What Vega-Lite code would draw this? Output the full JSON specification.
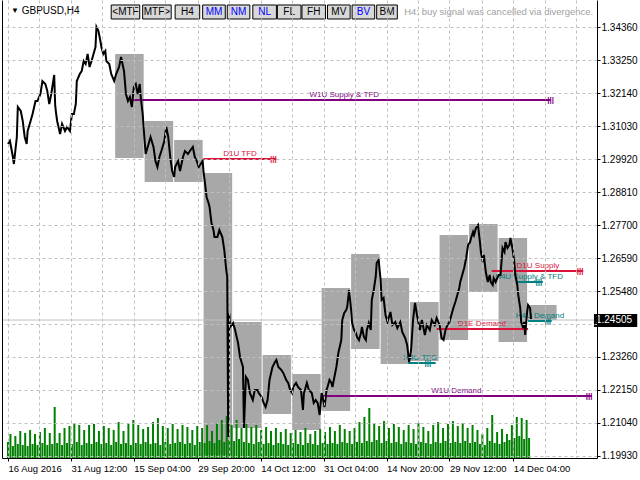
{
"$schema":"https://vega.github.io/schema/vega-lite/v6.json",
"width":595,"height":458,"autosize":"none",
"padding":{"left":2,"top":0,"right":43,"bottom":22},
"background":"white",
"config":{"view":{"stroke":null},"font":"Liberation Sans"},
"datasets":{
"boxes":[
{"a":109,"b":138,"hi":1.33467,"lo":1.29963},
{"a":139,"b":168,"hi":1.31210,"lo":1.29155},
{"a":169,"b":198,"hi":1.30570,"lo":1.29155},
{"a":199,"b":228,"hi":1.29458,"lo":1.19958},
{"a":229,"b":258,"hi":1.24439,"lo":1.20868},
{"a":259,"b":288,"hi":1.23327,"lo":1.21340},
{"a":289,"b":318,"hi":1.22687,"lo":1.20801},
{"a":319,"b":348,"hi":1.25584,"lo":1.21441},
{"a":349,"b":378,"hi":1.26730,"lo":1.23529},
{"a":379,"b":408,"hi":1.25921,"lo":1.23024},
{"a":409,"b":438,"hi":1.25113,"lo":1.23125},
{"a":439,"b":468,"hi":1.27370,"lo":1.23832},
{"a":469,"b":498,"hi":1.27740,"lo":1.25449},
{"a":499,"b":528,"hi":1.27268,"lo":1.23765},
{"a":529,"b":558,"hi":1.25012,"lo":1.24506}
],
"vol":[
{"i":0,"v":16},{"i":2.5,"v":24},{"i":5,"v":12},{"i":7.5,"v":22},{"i":10,"v":14},{"i":12.5,"v":27},{"i":15,"v":13},{"i":17.5,"v":25},{"i":20,"v":12},{"i":22.5,"v":28},
{"i":25,"v":14},{"i":27.5,"v":24},{"i":30,"v":13},{"i":32.5,"v":26},{"i":35,"v":15},{"i":37.5,"v":30},{"i":40,"v":13},{"i":42.5,"v":25},{"i":45,"v":14},{"i":47.5,"v":51},
{"i":50,"v":15},{"i":52.5,"v":25},{"i":55,"v":13},{"i":57.5,"v":30},{"i":60,"v":15},{"i":62.5,"v":32},{"i":65,"v":14},{"i":67.5,"v":35},{"i":70,"v":16},{"i":72.5,"v":33},
{"i":75,"v":13},{"i":77.5,"v":28},{"i":80,"v":15},{"i":82.5,"v":33},{"i":85,"v":14},{"i":87.5,"v":34},{"i":90,"v":16},{"i":92.5,"v":27},{"i":95,"v":14},{"i":97.5,"v":32},
{"i":100,"v":15},{"i":102.5,"v":30},{"i":105,"v":13},{"i":107.5,"v":28},{"i":110,"v":16},{"i":112.5,"v":36},{"i":115,"v":14},{"i":117.5,"v":27},{"i":120,"v":15},{"i":122.5,"v":34},
{"i":125,"v":13},{"i":127.5,"v":38},{"i":130,"v":15},{"i":132.5,"v":33},{"i":135,"v":14},{"i":137.5,"v":29},{"i":140,"v":16},{"i":142.5,"v":31},{"i":145,"v":14},{"i":147.5,"v":36},
{"i":150,"v":15},{"i":152.5,"v":40},{"i":155,"v":13},{"i":157.5,"v":32},{"i":160,"v":16},{"i":162.5,"v":30},{"i":165,"v":14},{"i":167.5,"v":34},{"i":170,"v":15},{"i":172.5,"v":29},
{"i":175,"v":16},{"i":177.5,"v":33},{"i":180,"v":14},{"i":182.5,"v":31},{"i":185,"v":15},{"i":187.5,"v":28},{"i":190,"v":13},{"i":192.5,"v":32},{"i":195,"v":16},{"i":197.5,"v":30},
{"i":200,"v":15},{"i":202.5,"v":33},{"i":205,"v":17},{"i":207.5,"v":27},{"i":210,"v":15},{"i":212.5,"v":35},{"i":215,"v":18},{"i":217.5,"v":38},{"i":220,"v":16},{"i":222.5,"v":42},
{"i":225,"v":18},{"i":227.5,"v":33},{"i":230,"v":17},{"i":232.5,"v":38},{"i":235,"v":19},{"i":237.5,"v":30},{"i":240,"v":16},{"i":242.5,"v":34},{"i":245,"v":15},{"i":247.5,"v":31},
{"i":250,"v":14},{"i":252.5,"v":33},{"i":255,"v":16},{"i":257.5,"v":28},{"i":260,"v":14},{"i":262.5,"v":31},{"i":265,"v":15},{"i":267.5,"v":27},{"i":270,"v":13},{"i":272.5,"v":30},
{"i":275,"v":15},{"i":277.5,"v":26},{"i":280,"v":14},{"i":282.5,"v":29},{"i":285,"v":13},{"i":287.5,"v":25},{"i":290,"v":15},{"i":292.5,"v":28},{"i":295,"v":14},{"i":297.5,"v":26},
{"i":300,"v":13},{"i":302.5,"v":30},{"i":305,"v":15},{"i":307.5,"v":24},{"i":310,"v":14},{"i":312.5,"v":27},{"i":315,"v":13},{"i":317.5,"v":29},{"i":320,"v":15},{"i":322.5,"v":26},
{"i":325,"v":14},{"i":327.5,"v":31},{"i":330,"v":15},{"i":332.5,"v":27},{"i":335,"v":14},{"i":337.5,"v":33},{"i":340,"v":16},{"i":342.5,"v":29},{"i":345,"v":15},{"i":347.5,"v":27},
{"i":350,"v":14},{"i":352.5,"v":30},{"i":355,"v":16},{"i":357.5,"v":36},{"i":360,"v":15},{"i":362.5,"v":41},{"i":365,"v":17},{"i":367.5,"v":50},{"i":370,"v":16},{"i":372.5,"v":35},
{"i":375,"v":18},{"i":377.5,"v":32},{"i":380,"v":15},{"i":382.5,"v":37},{"i":385,"v":17},{"i":387.5,"v":30},{"i":390,"v":15},{"i":392.5,"v":34},{"i":395,"v":16},{"i":397.5,"v":31},
{"i":400,"v":14},{"i":402.5,"v":28},{"i":405,"v":16},{"i":407.5,"v":33},{"i":410,"v":15},{"i":412.5,"v":29},{"i":415,"v":14},{"i":417.5,"v":35},{"i":420,"v":16},{"i":422.5,"v":31},
{"i":425,"v":15},{"i":427.5,"v":27},{"i":430,"v":14},{"i":432.5,"v":33},{"i":435,"v":16},{"i":437.5,"v":36},{"i":440,"v":15},{"i":442.5,"v":30},{"i":445,"v":17},{"i":447.5,"v":34},
{"i":450,"v":15},{"i":452.5,"v":37},{"i":455,"v":16},{"i":457.5,"v":32},{"i":460,"v":15},{"i":462.5,"v":35},{"i":465,"v":17},{"i":467.5,"v":30},{"i":470,"v":15},{"i":472.5,"v":33},
{"i":475,"v":16},{"i":477.5,"v":28},{"i":480,"v":14},{"i":482.5,"v":24},{"i":485,"v":13},{"i":487.5,"v":30},{"i":490,"v":17},{"i":492.5,"v":43},{"i":495,"v":15},{"i":497.5,"v":26},
{"i":500,"v":14},{"i":502.5,"v":29},{"i":505,"v":16},{"i":507.5,"v":24},{"i":510,"v":18},{"i":512.5,"v":33},{"i":515,"v":20},{"i":517.5,"v":41},{"i":520,"v":22},{"i":522.5,"v":40},
{"i":525,"v":19},{"i":527.5,"v":38},{"i":530,"v":20}
],
"px":[
{"i":0,"p":1.30435},{"i":2,"p":1.30536},{"i":5,"p":1.29997},{"i":6,"p":1.29761},{"i":9,"p":1.30671},{"i":10,"p":1.31682},{"i":13,"p":1.31547},{"i":15,"p":1.31210},{"i":17,"p":1.30671},{"i":19,"p":1.30435},
{"i":20,"p":1.30873},{"i":23,"p":1.31210},{"i":25,"p":1.31446},{"i":28,"p":1.31884},{"i":30,"p":1.31884},{"i":33,"p":1.32119},{"i":35,"p":1.32557},{"i":38,"p":1.32456},{"i":40,"p":1.32220},{"i":42,"p":1.31783},
{"i":44,"p":1.32119},{"i":47,"p":1.32760},{"i":48,"p":1.31749},{"i":49,"p":1.31446},{"i":50,"p":1.31210},{"i":53,"p":1.30772},{"i":55,"p":1.31109},{"i":58,"p":1.30873},{"i":60,"p":1.31008},{"i":63,"p":1.30873},
{"i":65,"p":1.31446},{"i":67,"p":1.31446},{"i":69,"p":1.31783},{"i":70,"p":1.32557},{"i":73,"p":1.32793},{"i":75,"p":1.32894},{"i":77,"p":1.33231},{"i":79,"p":1.33130},{"i":81,"p":1.33467},{"i":83,"p":1.33029},
{"i":85,"p":1.33231},{"i":87,"p":1.33467},{"i":89,"p":1.33703},{"i":90,"p":1.34376},{"i":92,"p":1.34242},{"i":94,"p":1.33905},{"i":95,"p":1.33703},{"i":97,"p":1.33467},{"i":99,"p":1.33568},{"i":100,"p":1.33231},
{"i":103,"p":1.33130},{"i":105,"p":1.32793},{"i":108,"p":1.32557},{"i":110,"p":1.32793},{"i":113,"p":1.33029},{"i":115,"p":1.33366},{"i":118,"p":1.32894},{"i":120,"p":1.32119},{"i":122,"p":1.31884},{"i":124,"p":1.32018},
{"i":126,"p":1.31682},{"i":128,"p":1.32355},{"i":130,"p":1.32456},{"i":132,"p":1.32119},{"i":134,"p":1.32456},{"i":135,"p":1.32018},{"i":137,"p":1.31446},{"i":139,"p":1.30536},{"i":140,"p":1.30098},{"i":143,"p":1.30435},
{"i":145,"p":1.30671},{"i":148,"p":1.30334},{"i":150,"p":1.29862},{"i":152,"p":1.29660},{"i":154,"p":1.29997},{"i":156,"p":1.30199},{"i":159,"p":1.30536},{"i":161,"p":1.31008},{"i":163,"p":1.30671},{"i":165,"p":1.29997},
{"i":167,"p":1.29526},{"i":169,"p":1.29323},{"i":170,"p":1.29660},{"i":173,"p":1.29862},{"i":175,"p":1.29526},{"i":178,"p":1.29997},{"i":180,"p":1.30199},{"i":183,"p":1.30098},{"i":185,"p":1.30199},{"i":188,"p":1.30334},
{"i":190,"p":1.29997},{"i":192,"p":1.29862},{"i":194,"p":1.29660},{"i":196,"p":1.29761},{"i":198,"p":1.29862},{"i":199,"p":1.29458},{"i":200,"p":1.29222},{"i":202,"p":1.28650},{"i":204,"p":1.28448},{"i":205,"p":1.28313},
{"i":207,"p":1.27774},{"i":209,"p":1.27538},{"i":210,"p":1.27302},{"i":213,"p":1.27302},{"i":215,"p":1.27538},{"i":218,"p":1.27302},{"i":220,"p":1.26864},{"i":221,"p":1.26527},{"i":222,"p":1.26190},{"i":223,"p":1.25955},
{"i":224,"p":1.20565},{"i":225,"p":1.24742},{"i":226,"p":1.24270},{"i":229,"p":1.24405},{"i":231,"p":1.24169},{"i":234,"p":1.23731},{"i":236,"p":1.23260},{"i":239,"p":1.22923},{"i":240,"p":1.20868},{"i":242,"p":1.22586},
{"i":244,"p":1.22485},{"i":246,"p":1.22047},{"i":249,"p":1.21811},{"i":251,"p":1.22148},{"i":254,"p":1.22148},{"i":255,"p":1.22047},{"i":258,"p":1.21912},{"i":260,"p":1.21710},{"i":262,"p":1.21575},{"i":264,"p":1.21811},
{"i":266,"p":1.22485},{"i":269,"p":1.22923},{"i":271,"p":1.23058},{"i":273,"p":1.23159},{"i":275,"p":1.22923},{"i":278,"p":1.22822},{"i":280,"p":1.22721},{"i":283,"p":1.22485},{"i":285,"p":1.22384},{"i":287,"p":1.22148},
{"i":289,"p":1.22047},{"i":290,"p":1.22249},{"i":293,"p":1.22384},{"i":295,"p":1.22249},{"i":298,"p":1.22148},{"i":300,"p":1.21474},{"i":301,"p":1.22047},{"i":302,"p":1.22148},{"i":304,"p":1.22384},{"i":306,"p":1.22148},
{"i":309,"p":1.22047},{"i":311,"p":1.21710},{"i":313,"p":1.21811},{"i":315,"p":1.21710},{"i":317,"p":1.21306},{"i":319,"p":1.22047},{"i":320,"p":1.21912},{"i":322,"p":1.21575},{"i":324,"p":1.22148},{"i":325,"p":1.22249},
{"i":327,"p":1.22485},{"i":329,"p":1.22384},{"i":330,"p":1.22249},{"i":332,"p":1.22586},{"i":334,"p":1.22923},{"i":336,"p":1.23394},{"i":339,"p":1.23832},{"i":340,"p":1.24506},{"i":342,"p":1.24742},{"i":344,"p":1.24843},
{"i":345,"p":1.24944},{"i":347,"p":1.25517},{"i":349,"p":1.24843},{"i":350,"p":1.24405},{"i":352,"p":1.24169},{"i":354,"p":1.24068},{"i":355,"p":1.23934},{"i":357,"p":1.23832},{"i":359,"p":1.24068},{"i":360,"p":1.24270},
{"i":362,"p":1.23934},{"i":364,"p":1.23832},{"i":365,"p":1.24169},{"i":367,"p":1.24405},{"i":369,"p":1.24169},{"i":370,"p":1.25180},{"i":372,"p":1.25517},{"i":374,"p":1.25955},{"i":375,"p":1.26426},{"i":377,"p":1.26527},
{"i":379,"p":1.25854},{"i":380,"p":1.25180},{"i":382,"p":1.25247},{"i":384,"p":1.24675},{"i":386,"p":1.24439},{"i":389,"p":1.24776},{"i":391,"p":1.24338},{"i":394,"p":1.24439},{"i":396,"p":1.24237},{"i":399,"p":1.24439},
{"i":401,"p":1.24102},{"i":404,"p":1.23900},{"i":406,"p":1.23664},{"i":408,"p":1.23091},{"i":410,"p":1.23496},{"i":412,"p":1.24506},{"i":414,"p":1.25079},{"i":416,"p":1.24675},{"i":419,"p":1.24169},{"i":421,"p":1.24506},
{"i":424,"p":1.24001},{"i":426,"p":1.24338},{"i":429,"p":1.24169},{"i":431,"p":1.24506},{"i":434,"p":1.24338},{"i":436,"p":1.24574},{"i":439,"p":1.24338},{"i":441,"p":1.23900},{"i":443,"p":1.23832},{"i":445,"p":1.24169},
{"i":447,"p":1.24338},{"i":449,"p":1.24439},{"i":451,"p":1.24675},{"i":453,"p":1.24910},{"i":455,"p":1.25113},{"i":457,"p":1.25348},{"i":459,"p":1.25584},{"i":460,"p":1.25786},{"i":462,"p":1.26022},{"i":464,"p":1.26258},
{"i":466,"p":1.26595},{"i":468,"p":1.27033},{"i":470,"p":1.27134},{"i":471,"p":1.27268},{"i":473,"p":1.27471},{"i":474,"p":1.27370},{"i":476,"p":1.27605},{"i":478,"p":1.27706},{"i":480,"p":1.27134},{"i":481,"p":1.26797},
{"i":483,"p":1.26460},{"i":484,"p":1.26696},{"i":486,"p":1.26123},{"i":488,"p":1.25786},{"i":490,"p":1.26022},{"i":491,"p":1.25786},{"i":493,"p":1.25685},{"i":494,"p":1.25921},{"i":496,"p":1.25786},{"i":499,"p":1.26022},
{"i":501,"p":1.26022},{"i":503,"p":1.26932},{"i":505,"p":1.26797},{"i":506,"p":1.27134},{"i":508,"p":1.26932},{"i":510,"p":1.27033},{"i":511,"p":1.27268},{"i":513,"p":1.26932},{"i":515,"p":1.26460},{"i":516,"p":1.26022},
{"i":518,"p":1.25685},{"i":519,"p":1.25348},{"i":521,"p":1.24910},{"i":522,"p":1.24439},{"i":524,"p":1.24237},{"i":525,"p":1.24439},{"i":526,"p":1.24001},{"i":528,"p":1.24776},{"i":529,"p":1.25012},{"i":531,"p":1.24910},
{"i":532,"p":1.24540}
],
"zones":[
{"name":"W1U Supply & TFD","tf":"W1","x1":127,"x2":552,"p":1.31917,"lx":342,"mx":552},
{"name":"D1U TFD","tf":"D1","x1":199,"x2":273,"p":1.29930,"lx":236,"mx":270},
{"name":"W1U Demand","tf":"W1","x1":320,"x2":594,"p":1.21946,"lx":456,"mx":591},
{"name":"D1U Supply","tf":"D1","x1":492,"x2":585,"p":1.26157,"lx":539,"mx":582},
{"name":"H4U Supply & TFD","tf":"H4","x1":517,"x2":544,"p":1.25786,"lx":530,"mx":540},
{"name":"H4U Demand","tf":"H4","x1":529,"x2":553,"p":1.24473,"lx":541,"mx":549},
{"name":"D1E Demand","tf":"D1","x1":436,"x2":529,"p":1.24203,"lx":482,"mx":null},
{"name":"H4U TFS","tf":"H4","x1":407,"x2":435,"p":1.23058,"lx":419,"mx":427}
],
"btn":[
{"t":"<MTF","a":105,"b":134,"m":119.5,"s":"off"},
{"t":"MTF>","a":137,"b":166,"m":151.5,"s":"off"},
{"t":"H4","a":170,"b":195,"m":182.5,"s":"off"},
{"t":"MM","a":198,"b":221,"m":209.5,"s":"on"},
{"t":"NM","a":223,"b":246,"m":234.5,"s":"on"},
{"t":"NL","a":249,"b":273,"m":261,"s":"on"},
{"t":"FL","a":274,"b":298,"m":286,"s":"off"},
{"t":"FH","a":299,"b":323,"m":311,"s":"off"},
{"t":"MV","a":325,"b":348,"m":336.5,"s":"off"},
{"t":"BV","a":350,"b":373,"m":361.5,"s":"on"},
{"t":"BM","a":375,"b":396,"m":385.5,"s":"off"}
],
"cur":[{"p":1.24505}]
},
"resolve":{"scale":{"y":"independent"},"axis":{"y":"independent","x":"independent"}},
"layer":[
{"data":{"name":"boxes"},
 "mark":{"type":"rect","color":"#a8a8a8"},
 "encoding":{
  "x":{"field":"a","type":"quantitative","scale":{"domain":[-1,594],"nice":false,"zero":false},
   "axis":{"orient":"bottom","title":null,"zindex":1,
    "values":[0,32,64,96,128,160,193,225,257,289,321,353,385,417,449,482,514,546,578],
    "labels":false,"ticks":false,
    "grid":true,"gridColor":"#c0c0c0","gridDash":[3,3],"gridWidth":1,
    "domain":true,"domainColor":"#000000"}},
  "x2":{"field":"b"},
  "y":{"field":"hi","type":"quantitative","scale":{"domain":[1.19857,1.35286],"nice":false,"zero":false},
   "axis":{"orient":"right","title":null,"zindex":1,
    "values":[1.1993,1.2104,1.2215,1.2326,1.2437,1.2548,1.2659,1.277,1.2881,1.2992,1.3103,1.3214,1.3325,1.3436],
    "format":".5f","labelExpr":"(datum.value > 1.2436 && datum.value < 1.2438) ? '' : datum.label",
    "labelFontSize":10,"labelColor":"#000000","labelFont":"Liberation Sans","labelPadding":1,"labelOverlap":false,"labelBound":false,"labelFlush":false,
    "tickSize":3,"tickColor":"#000000",
    "grid":true,"gridColor":"#c0c0c0","gridDash":[3,3],"gridWidth":1,
    "domain":true,"domainColor":"#000000"}},
  "y2":{"field":"lo"}
 }
},
{"data":{"name":"vol"},
 "mark":{"type":"bar","orient":"vertical","size":2,"color":"#008000"},
 "encoding":{
  "x":{"field":"i","type":"quantitative","scale":{"domain":[-1,594],"nice":false,"zero":false},
   "axis":{"orient":"bottom","title":null,"zindex":1,
    "values":[0,64,128,193,257,321,385,449,514],
    "labelExpr":"['16 Aug 2016','31 Aug 12:00','15 Sep 04:00','29 Sep 20:00','14 Oct 12:00','31 Oct 04:00','14 Nov 20:00','29 Nov 12:00','14 Dec 04:00'][indexof([0,64,128,193,257,321,385,449,514], datum.value)]",
    "labelAlign":"left","labelBaseline":"top","labelPadding":2,"labelFontSize":9.5,"labelColor":"#000000","labelFont":"Liberation Sans",
    "labelOverlap":false,"labelFlush":false,"labelBound":false,
    "ticks":true,"tickSize":3,"tickColor":"#000000","grid":false,"domain":false}},
  "y":{"field":"v","type":"quantitative","scale":{"domain":[0,458],"nice":false,"zero":true},
   "axis":{"orient":"left","title":null,"labels":false,"ticks":false,"grid":false,"domain":true,"domainColor":"#000000","zindex":1}}
 }
},
{"layer":[
 {"data":{"name":"cur"},
  "mark":{"type":"rule","color":"#c0c0c0","strokeWidth":1},
  "encoding":{"y":{"field":"p","type":"quantitative","scale":{"domain":[1.19857,1.35286],"nice":false,"zero":false},"axis":null}}},
 {"data":{"name":"zones"},
  "mark":{"type":"rule","strokeWidth":2},
  "encoding":{
   "x":{"field":"x1","type":"quantitative","scale":{"domain":[-1,594],"nice":false,"zero":false},"axis":null},
   "x2":{"field":"x2"},
   "y":{"field":"p","type":"quantitative","scale":{"domain":[1.19857,1.35286],"nice":false,"zero":false},"axis":null},
   "color":{"condition":[{"test":"datum.tf==='W1'","value":"#800080"},{"test":"datum.tf==='D1'","value":"#dc143c"}],"value":"#008080"}}},
 {"data":{"name":"zones"},
  "mark":{"type":"text","fontSize":8,"baseline":"bottom","align":"center","dy":-1,"font":"Liberation Sans"},
  "encoding":{
   "x":{"field":"lx","type":"quantitative","scale":{"domain":[-1,594],"nice":false,"zero":false},"axis":null},
   "y":{"field":"p","type":"quantitative","scale":{"domain":[1.19857,1.35286],"nice":false,"zero":false},"axis":null},
   "text":{"field":"name"},
   "color":{"condition":[{"test":"datum.tf==='W1'","value":"#800080"},{"test":"datum.tf==='D1'","value":"#dc143c"}],"value":"#008080"}}},
 {"data":{"name":"zones"},
  "transform":[{"filter":"datum.mx != null"}],
  "mark":{"type":"text","text":"|||","fontSize":8,"fontWeight":"bold","baseline":"middle","align":"center","font":"Liberation Sans"},
  "encoding":{
   "x":{"field":"mx","type":"quantitative","scale":{"domain":[-1,594],"nice":false,"zero":false},"axis":null},
   "y":{"field":"p","type":"quantitative","scale":{"domain":[1.19857,1.35286],"nice":false,"zero":false},"axis":null},
   "color":{"condition":[{"test":"datum.tf==='W1'","value":"#800080"},{"test":"datum.tf==='D1'","value":"#dc143c"}],"value":"#008080"}}},
 {"data":{"name":"px"},
  "mark":{"type":"line","color":"#000000","strokeWidth":2},
  "encoding":{
   "x":{"field":"i","type":"quantitative","scale":{"domain":[-1,594],"nice":false,"zero":false},"axis":null},
   "y":{"field":"p","type":"quantitative","scale":{"domain":[1.19857,1.35286],"nice":false,"zero":false},"axis":null}}},
 {"data":{"name":"cur"},
  "mark":{"type":"rect","color":"#000000"},
  "encoding":{
   "x":{"datum":596,"type":"quantitative","scale":{"domain":[-1,594],"nice":false,"zero":false},"axis":null},
   "x2":{"datum":640},
   "y":{"datum":1.24708,"type":"quantitative","scale":{"domain":[1.19857,1.35286],"nice":false,"zero":false},"axis":null},
   "y2":{"datum":1.24270}}},
 {"data":{"name":"cur"},
  "mark":{"type":"text","color":"#ffffff","fontSize":10,"align":"left","baseline":"middle","font":"Liberation Sans"},
  "encoding":{
   "x":{"datum":598,"type":"quantitative","scale":{"domain":[-1,594],"nice":false,"zero":false},"axis":null},
   "y":{"field":"p","type":"quantitative","scale":{"domain":[1.19857,1.35286],"nice":false,"zero":false},"axis":null},
   "text":{"field":"p","type":"quantitative","format":".5f"}}},
 {"data":{"name":"btn"},
  "mark":{"type":"rect","fill":"#d8d8d8","stroke":"#000000","strokeWidth":1},
  "encoding":{
   "x":{"field":"a","type":"quantitative","scale":{"domain":[-1,594],"nice":false,"zero":false},"axis":null},
   "x2":{"field":"b"},
   "y":{"datum":1.35118,"type":"quantitative","scale":{"domain":[1.19857,1.35286],"nice":false,"zero":false},"axis":null},
   "y2":{"datum":1.34646}}},
 {"data":{"name":"btn"},
  "mark":{"type":"text","fontSize":10,"align":"center","baseline":"middle","font":"Liberation Sans"},
  "encoding":{
   "x":{"field":"m","type":"quantitative","scale":{"domain":[-1,594],"nice":false,"zero":false},"axis":null},
   "y":{"datum":1.34882,"type":"quantitative","scale":{"domain":[1.19857,1.35286],"nice":false,"zero":false},"axis":null},
   "text":{"field":"t"},
   "color":{"condition":{"test":"datum.s==='on'","value":"#0000ff"},"value":"#000000"}}},
 {"data":{"values":[{"t":"H4: buy signal was cancelled via divergence."}]},
  "mark":{"type":"text","fontSize":9.5,"align":"left","baseline":"middle","color":"#a0a0a0","font":"Liberation Sans"},
  "encoding":{
   "x":{"datum":403,"type":"quantitative","scale":{"domain":[-1,594],"nice":false,"zero":false},"axis":null},
   "y":{"datum":1.34882,"type":"quantitative","scale":{"domain":[1.19857,1.35286],"nice":false,"zero":false},"axis":null},
   "text":{"field":"t"}}},
 {"data":{"values":[{"t":"▼"}]},
  "mark":{"type":"text","fontSize":8,"align":"left","baseline":"middle","color":"#000000"},
  "encoding":{
   "x":{"datum":3,"type":"quantitative","scale":{"domain":[-1,594],"nice":false,"zero":false},"axis":null},
   "y":{"datum":1.34915,"type":"quantitative","scale":{"domain":[1.19857,1.35286],"nice":false,"zero":false},"axis":null},
   "text":{"field":"t"}}},
 {"data":{"values":[{"t":"GBPUSD,H4"}]},
  "mark":{"type":"text","fontSize":10,"align":"left","baseline":"middle","color":"#000000","font":"Liberation Sans"},
  "encoding":{
   "x":{"datum":14,"type":"quantitative","scale":{"domain":[-1,594],"nice":false,"zero":false},"axis":null},
   "y":{"datum":1.34915,"type":"quantitative","scale":{"domain":[1.19857,1.35286],"nice":false,"zero":false},"axis":null},
   "text":{"field":"t"}}}
]}
]
}
